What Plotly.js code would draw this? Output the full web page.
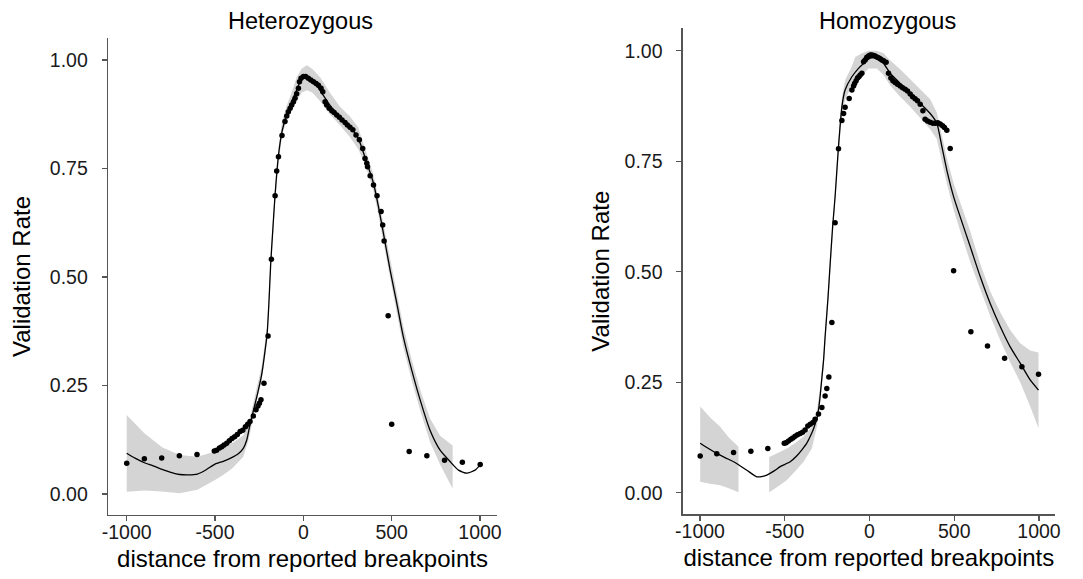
<!DOCTYPE html>
<html>
<head>
<meta charset="utf-8">
<script src="https://cdn.plot.ly/plotly-3.0.1.min.js"></script>
<style>html,body{margin:0;padding:0;background:#fff;}#chart{width:1083px;height:579px;}</style>
</head>
<body>
<div id="chart"></div>
<script>
// ---------- Heterozygous: observed validation rates ----------
const hetX = [-1000,-900,-802,-702,-602,-504,-491,-475,-462,-449,-434,-419,-404,-389,-374,-358,-343,-328,-315,-302,
  -283,-268,-257,-249,-240,-223,-200,-181,-160,-151,-141,-121,-104,-94,-85,-75,-66,-56,-47,-38,-28,-22,-13,0,13,28,42,57,72,85,
  100,110,123,132,146,161,174,189,204,219,236,249,264,280,298,317,336,349,359,363,378,397,417,440,449,457,480,500,599,699,799,900,1001];
const hetY = [0.071,0.081,0.083,0.088,0.091,0.099,0.101,0.106,0.109,0.113,0.117,0.123,0.128,0.132,0.137,0.144,0.147,0.155,0.161,0.167,
  0.180,0.194,0.203,0.209,0.217,0.255,0.364,0.541,0.687,0.744,0.777,0.826,0.858,0.871,0.881,0.889,0.896,0.904,0.912,0.922,0.935,0.950,0.958,0.962,0.962,0.958,0.954,0.950,0.946,0.942,
  0.935,0.927,0.904,0.896,0.889,0.883,0.879,0.873,0.868,0.862,0.856,0.850,0.845,0.839,0.827,0.816,0.796,0.773,0.762,0.754,0.733,0.712,0.687,0.651,0.620,0.583,0.411,0.161,0.098,0.088,0.078,0.073,0.068];

// ---------- Heterozygous: smoothed fit ----------
const hetFitX = [-1000,-950,-900,-850,-800,-750,-700,-650,-600,-550,-500,-450,-400,-370,-340,-320,-302,-283,-260,-236,
  -220,-205,-195,-185,-172,-160,-141,-121,-104,-94,-66,-38,-19,2,37,74,112,150,206,264,
  310,338,367,397,425,453,491,529,566,613,661,717,774,830,878,925,972,1001];
const hetFitY = [0.094,0.082,0.072,0.065,0.057,0.050,0.045,0.044,0.046,0.056,0.069,0.076,0.085,0.092,0.105,0.125,0.160,0.192,0.230,0.275,
  0.320,0.370,0.440,0.530,0.615,0.690,0.780,0.835,0.862,0.877,0.904,0.931,0.950,0.962,0.958,0.942,0.919,0.896,0.869,0.846,
  0.820,0.789,0.754,0.716,0.662,0.601,0.516,0.439,0.362,0.286,0.217,0.147,0.101,0.075,0.055,0.048,0.055,0.067];

// ---------- Heterozygous: confidence band ----------
const hetBandX = [-1000,-900,-800,-700,-600,-500,-450,-400,-340,-310,-283,-255,-236,-205,-185,-160,-141,-121,-94,-66,
  -38,-10,20,50,95,150,206,264,310,338,367,397,425,453,491,529,566,613,661,717,774,845];
const hetBandLo = [0.005,0.008,0.006,0.002,0.010,0.032,0.045,0.060,0.086,0.125,0.175,0.230,0.262,0.355,0.515,0.670,0.760,0.825,0.862,0.885,
  0.905,0.925,0.930,0.925,0.905,0.875,0.850,0.822,0.795,0.770,0.737,0.698,0.643,0.580,0.494,0.416,0.338,0.262,0.193,0.120,0.068,0.012];
const hetBandHi = [0.182,0.140,0.108,0.090,0.086,0.098,0.108,0.118,0.135,0.160,0.210,0.262,0.295,0.385,0.545,0.705,0.795,0.858,0.895,0.925,
  0.960,0.980,0.988,0.980,0.960,0.925,0.893,0.870,0.845,0.810,0.772,0.735,0.681,0.622,0.538,0.462,0.386,0.310,0.241,0.174,0.134,0.112];

// ---------- Homozygous: observed validation rates ----------
const homX = [-999,-901,-802,-700,-600,-503,-492,-478,-464,-452,-439,-425,-409,-395,-380,-364,-350,-334,-321,-301,
  -281,-262,-252,-240,-222,-203,-183,-163,-153,-144,-120,-104,-94,-88,-79,-71,-63,-55,-45,-35,-26,-16,-6,4,14,24,33,43,53,63,
  73,83,98,112,126,138,151,165,181,195,210,224,240,254,269,283,299,315,328,342,358,374,389,403,417,431,442,456,476,496,598,696,797,899,997];
const homY = [0.083,0.088,0.091,0.094,0.100,0.112,0.113,0.117,0.121,0.124,0.128,0.131,0.134,0.137,0.142,0.151,0.155,0.159,0.166,0.178,
  0.193,0.219,0.236,0.262,0.385,0.611,0.778,0.842,0.858,0.872,0.892,0.911,0.920,0.926,0.932,0.938,0.941,0.945,0.949,0.975,0.979,0.985,0.988,0.990,0.990,0.989,0.988,0.986,0.984,0.982,
  0.979,0.977,0.974,0.949,0.938,0.932,0.928,0.924,0.920,0.916,0.913,0.909,0.902,0.896,0.891,0.887,0.879,0.864,0.845,0.841,0.838,0.836,0.836,0.837,0.834,0.830,0.826,0.820,0.779,0.502,0.364,0.332,0.304,0.285,0.268];

// ---------- Homozygous: smoothed fit ----------
const homFitX = [-999,-950,-901,-850,-802,-760,-724,-665,-630,-606,-560,-527,-468,-430,-399,-370,-350,-335,-321,-310,
  -300,-291,-281,-271,-262,-245,-232,-218,-203,-183,-163,-144,-104,-65,-35,4,43,83,122,181,
  240,299,358,397,427,456,496,535,594,653,712,771,830,889,948,997];
const homFitY = [0.112,0.100,0.089,0.079,0.070,0.060,0.051,0.036,0.037,0.040,0.050,0.059,0.070,0.083,0.097,0.112,0.127,0.140,0.155,0.168,
  0.190,0.220,0.260,0.300,0.353,0.440,0.519,0.600,0.670,0.783,0.873,0.911,0.941,0.960,0.971,0.983,0.983,0.971,0.949,0.926,
  0.904,0.881,0.858,0.836,0.783,0.730,0.670,0.624,0.557,0.489,0.428,0.376,0.330,0.293,0.255,0.232];

// ---------- Homozygous: confidence band (two pieces, gap between them) ----------
const homBandAX = [-999,-940,-881,-830,-773];
const homBandALo = [0.025,0.020,0.017,0.010,0.001];
const homBandAHi = [0.195,0.170,0.149,0.125,0.104];
const homBandBX = [-592,-540,-487,-440,-389,-340,-310,-291,-271,-262,-245,-232,-218,-203,-183,-163,-144,-104,-84,-45,
  -6,43,83,122,181,240,299,358,397,427,456,496,535,594,653,712,771,830,889,948,997];
const homBandBLo = [0.001,0.014,0.029,0.048,0.070,0.100,0.150,0.205,0.285,0.338,0.425,0.504,0.585,0.655,0.765,0.853,0.890,0.920,0.930,0.945,
  0.960,0.960,0.945,0.921,0.896,0.873,0.848,0.822,0.800,0.753,0.700,0.640,0.592,0.522,0.460,0.400,0.345,0.295,0.250,0.195,0.146];
const homBandBHi = [0.081,0.090,0.100,0.112,0.127,0.149,0.188,0.238,0.315,0.368,0.455,0.534,0.615,0.685,0.800,0.893,0.933,0.965,0.986,0.994,
  1.000,1.000,0.994,0.978,0.958,0.936,0.912,0.890,0.860,0.810,0.758,0.700,0.655,0.592,0.518,0.456,0.408,0.368,0.338,0.322,0.317];

// ---------- Axis ticks & labels ----------
const xTickVals = [-1000,-500,0,500,1000];
const xTickText = ['-1000','-500','0','500','1000'];
const yTickVals = [0,0.25,0.5,0.75,1];
const yTickText = ['0.00','0.25','0.50','0.75','1.00'];
const panelTitles = ['Heterozygous','Homozygous'];
const xTitle = 'distance from reported breakpoints';
const yTitle = 'Validation Rate';

const FONT = 'Liberation Sans, Arial, Helvetica, sans-serif';
const bandColor = 'rgba(153,153,153,0.42)';

function band(x, lo, hi, xa, ya) {
  return {
    x: x.concat(x.slice().reverse()),
    y: hi.concat(lo.slice().reverse()),
    xaxis: xa, yaxis: ya, type: 'scatter', mode: 'lines',
    fill: 'toself', fillcolor: bandColor, line: {width: 0, color: 'rgba(0,0,0,0)'},
    hoverinfo: 'skip', showlegend: false
  };
}
function pts(x, y, xa, ya) {
  return {x: x, y: y, xaxis: xa, yaxis: ya, type: 'scatter', mode: 'markers',
    marker: {color: '#000', size: 5.5}, showlegend: false};
}
function fit(x, y, xa, ya) {
  return {x: x, y: y, xaxis: xa, yaxis: ya, type: 'scatter', mode: 'lines',
    line: {color: '#000', width: 1.3, shape: 'spline', smoothing: 0.6}, showlegend: false};
}

const data = [
  band(hetBandX, hetBandLo, hetBandHi, 'x', 'y'),
  pts(hetX, hetY, 'x', 'y'),
  fit(hetFitX, hetFitY, 'x', 'y'),
  band(homBandAX, homBandALo, homBandAHi, 'x2', 'y2'),
  band(homBandBX, homBandBLo, homBandBHi, 'x2', 'y2'),
  pts(homX, homY, 'x2', 'y2'),
  fit(homFitX, homFitY, 'x2', 'y2')
];

function xax(domain, range) {
  return {
    domain: domain, range: range, tickvals: xTickVals, ticktext: xTickText,
    showline: true, linecolor: '#555', linewidth: 1.3, ticks: 'outside', ticklen: 5, tickwidth: 1.2, tickcolor: '#555',
    showgrid: false, zeroline: false, tickfont: {family: FONT, size: 19.5, color: '#1a1a1a'},
    ticklabelstandoff: -6,
    title: {text: xTitle, font: {family: FONT, size: 24, color: '#000'}, standoff: 8},
    automargin: false, fixedrange: true
  };
}
function yax(domain, range, standoff) {
  return {
    domain: domain, range: range, tickvals: yTickVals, ticktext: yTickText,
    showline: true, linecolor: '#555', linewidth: 1.3, ticks: 'outside', ticklen: 5, tickwidth: 1.2, tickcolor: '#555',
    showgrid: false, zeroline: false, tickfont: {family: FONT, size: 19.5, color: '#1a1a1a'},
    ticklabelstandoff: 10,
    title: {text: yTitle, font: {family: FONT, size: 24, color: '#000'}, standoff: standoff},
    automargin: false, fixedrange: true
  };
}

const layout = {
  width: 1083, height: 579,
  margin: {l: 0, r: 0, t: 0, b: 0, pad: 0},
  paper_bgcolor: '#fff', plot_bgcolor: '#fff',
  font: {family: FONT, color: '#000'},
  showlegend: false,
  xaxis: Object.assign(xax([0.0997, 0.4589], [-1106, 1096]), {anchor: 'y'}),
  yaxis: Object.assign(yax([0.1105, 0.9344], [-0.0484, 1.0507], 12), {anchor: 'x'}),
  xaxis2: Object.assign(xax([0.6304, 0.9741], [-1102, 1094]), {anchor: 'y2'}),
  yaxis2: Object.assign(yax([0.1117, 0.9516], [-0.0489, 1.0513], 8), {anchor: 'x2'}),
  annotations: [
    {text: panelTitles[0], xref: 'paper', yref: 'paper', x: 0.2775, y: 0.9637, xanchor: 'center', yanchor: 'middle',
     showarrow: false, font: {family: FONT, size: 23.5, color: '#000'}},
    {text: panelTitles[1], xref: 'paper', yref: 'paper', x: 0.8195, y: 0.9637, xanchor: 'center', yanchor: 'middle',
     showarrow: false, font: {family: FONT, size: 23.5, color: '#000'}}
  ]
};

Plotly.newPlot('chart', data, layout, {displayModeBar: false, staticPlot: true});
</script>
</body>
</html>
